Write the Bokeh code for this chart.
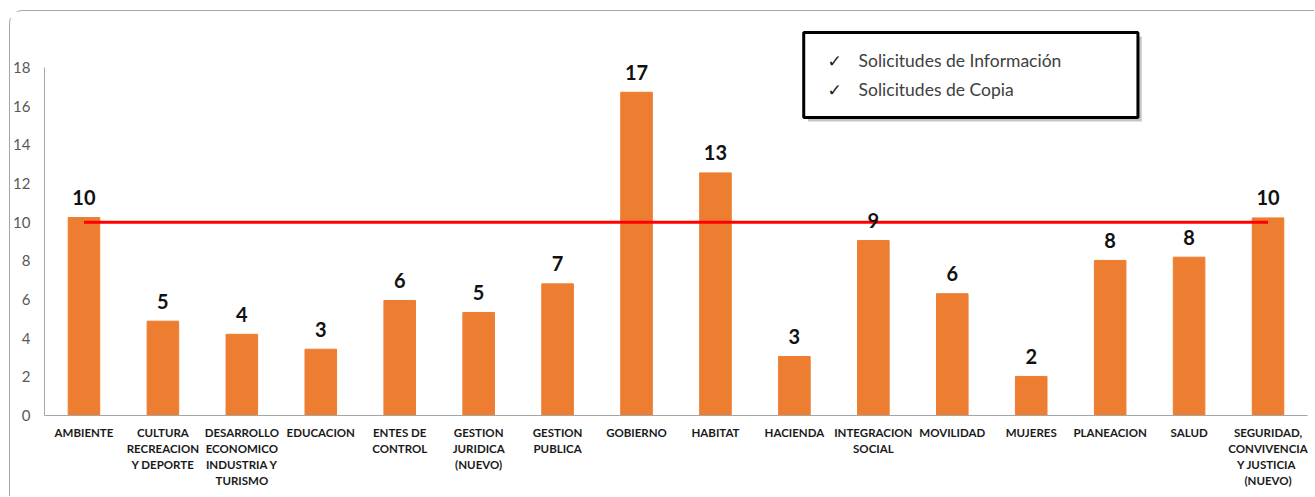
from bokeh.plotting import figure
from bokeh.models import ColumnDataSource, FactorRange, Range1d, LabelSet, BoxAnnotation, Label, FixedTicker
from bokeh.core.properties import value
from bokeh.embed import file_html
from bokeh.resources import INLINE

categories = [
    "AMBIENTE",
    "CULTURA\nRECREACION\nY DEPORTE",
    "DESARROLLO\nECONOMICO\nINDUSTRIA Y\nTURISMO",
    "EDUCACION",
    "ENTES DE\nCONTROL",
    "GESTION\nJURIDICA\n(NUEVO)",
    "GESTION\nPUBLICA",
    "GOBIERNO",
    "HABITAT",
    "HACIENDA",
    "INTEGRACION\nSOCIAL",
    "MOVILIDAD",
    "MUJERES",
    "PLANEACION",
    "SALUD",
    "SEGURIDAD,\nCONVIVENCIA\nY  JUSTICIA\n(NUEVO)",
]
values = [10.24, 4.88, 4.2, 3.43, 5.95, 5.33, 6.81, 16.72, 12.55, 3.05, 9.05, 6.3, 2.02, 8.02, 8.19, 10.22]
value_labels = ["10", "5", "4", "3", "6", "5", "7", "17", "13", "3", "9", "6", "2", "8", "8", "10"]
target = 10
y_ticks = [0, 2, 4, 6, 8, 10, 12, 14, 16, 18]
legend_items = ["Solicitudes de Información", "Solicitudes de Copia"]

src = ColumnDataSource(dict(cat=categories, val=values, lab=value_labels))

p = figure(
    width=1305, height=486,
    x_range=FactorRange(factors=categories, range_padding=0),
    y_range=Range1d(0, 20.33),
    output_backend="svg", toolbar_location=None,
    min_border_left=32, min_border_right=8, min_border_top=11, min_border_bottom=82,
)
p.styles = {"margin-left": "9px", "margin-top": "10px",
            "border-left": "1px solid #a6a6a6", "border-top": "1px solid #a6a6a6",
            "border-top-left-radius": "14px"}
p.outline_line_color = None
p.xgrid.visible = False
p.ygrid.visible = False
p.background_fill_color = "white"
p.border_fill_color = "white"

p.vbar(x="cat", top="val", width=0.4, source=src, color="#ED7D31")
p.line(x=[categories[0], categories[-1]], y=[target, target], line_color="#FF0000", line_width=3)

labels = LabelSet(x="cat", y="val", text="lab", source=src, y_offset=20,
                  text_align="center", text_baseline="middle",
                  text_font=value("Lato"), text_font_style="bold", text_font_size=value("20px"),
                  text_color="#111111")
p.add_layout(labels)

# y axis
p.yaxis.ticker = FixedTicker(ticks=y_ticks)
p.yaxis.bounds = (0, 18)
p.yaxis.major_tick_line_color = None
p.yaxis.minor_tick_line_color = None
p.yaxis.major_tick_out = 0
p.yaxis.major_tick_in = 0
p.yaxis.minor_tick_out = 0
p.yaxis.axis_label_standoff = 0
p.yaxis.axis_line_color = "#a6a6a6"
p.yaxis.major_label_text_font = "Lato"
p.yaxis.major_label_text_font_size = "15px"
p.yaxis.major_label_text_color = "#595959"
p.yaxis.major_label_standoff = 14

# x axis
p.xaxis.major_tick_line_color = None
p.xaxis.minor_tick_line_color = None
p.xaxis.major_tick_out = 0
p.xaxis.major_tick_in = 0
p.xaxis.minor_tick_out = 0
p.xaxis.axis_label_standoff = 0
p.xaxis.axis_line_color = "#a6a6a6"
p.xaxis.major_label_text_font = "Lato"
p.xaxis.major_label_text_font_style = "bold"
p.xaxis.major_label_text_font_size = "11.5px"
p.xaxis.major_label_text_color = "#1a1a1a"
p.xaxis.major_label_text_line_height = 1.25
p.xaxis.major_label_standoff = 10

# legend-like box (annotation)
shadow = BoxAnnotation(left=9.67, right=13.90, top=19.61, bottom=15.21,
                       fill_color="#7f7f7f", fill_alpha=0.45, line_color=None, level="overlay")
box = BoxAnnotation(left=9.618, right=13.852, top=19.81, bottom=15.41,
                    fill_color="white", fill_alpha=1.0, line_color="black", line_alpha=1.0,
                    line_width=3, level="overlay")
p.add_layout(shadow)
p.add_layout(box)
ys = [18.36, 16.86]
for t, yv in zip(legend_items, ys):
    p.add_layout(Label(x=10.01, y=yv, text="✓", text_font="DejaVu Sans", text_font_size="17px",
                       text_color="#1a1a1a", text_baseline="middle", text_align="center", level="overlay"))
    p.add_layout(Label(x=10.313, y=yv, text=t, text_font="Lato", text_font_size="17.5px",
                       text_color="#404040", text_baseline="middle", text_align="left", level="overlay"))

open("out.html", "w").write(file_html(p, INLINE))
